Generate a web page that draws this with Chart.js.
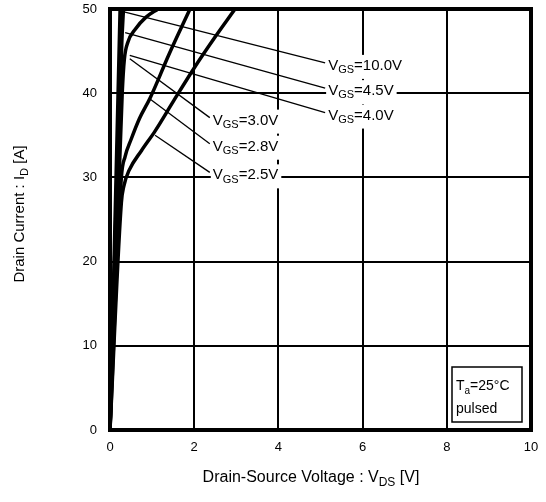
<!DOCTYPE html>
<html>
<head>
<meta charset="utf-8">
<script src="https://cdn.jsdelivr.net/npm/chart.js@4"></script>
<style>
  html, body { margin: 0; padding: 0; background: #fff; }
  canvas { display: block; }
</style>
</head>
<body>
<canvas id="chart" width="546" height="502"></canvas>
<script>
// Output characteristics, drain current vs drain-source voltage
const xTicks = [0, 2, 4, 6, 8, 10];
const yTicks = [0, 10, 20, 30, 40, 50];

// series points [V_DS, I_D]
const vgs10 = [[0, 0], [0.24, 50]];
const vgs45 = [[0, 0], [0.27, 50]];
const vgs40 = [[0, 0], [0.28, 46], [0.32, 50]];
const vgs30 = [[0, 0], [0.29, 40], [0.34, 44], [0.42, 46], [0.6, 47.6], [0.85, 49], [1.14, 50]];
const vgs28 = [[0, 0], [0.27, 30], [0.36, 32.5], [0.5, 34.5], [0.7, 37], [0.95, 39.4], [1.4, 44.6], [1.9, 50]];
const vgs25 = [[0, 0], [0.27, 27], [0.33, 29], [0.45, 30.8], [0.75, 33.2], [1.07, 35.5], [1.5, 39], [2, 43], [2.5, 46.7], [2.97, 50]];

// label text and where its leader line touches the curves
const labelNames = ['10.0V', '4.5V', '4.0V', '3.0V', '2.8V', '2.5V'];
const leaderFrom = [[0.31, 49.7], [0.36, 47.2], [0.47, 44.5], [0.47, 44.1], [0.95, 39.3], [1.07, 35.0]];
const leaderTo = [[5.11, 43.6], [5.11, 40.6], [5.11, 37.7], [2.37, 37.1], [2.37, 34.0], [2.37, 30.6]];

const FONT = 'Arial, "Liberation Sans", sans-serif';

function toPts(arr) {
    return arr.map(p => ({ x: p[0], y: p[1] }));
}

function curve(arr) {
    return {
        data: toPts(arr),
        borderColor: '#000',
        borderWidth: 3.5,
        pointRadius: 0,
        showLine: true,
        fill: false,
        cubicInterpolationMode: 'monotone'
    };
}

// draws "main" + subscript + rest, returns width
function subText(ctx, x, y, main, sub, rest, size) {
    ctx.font = size + 'px ' + FONT;
    ctx.fillText(main, x, y);
    let w = ctx.measureText(main).width;
    ctx.font = Math.round(size * 0.72) + 'px ' + FONT;
    ctx.fillText(sub, x + w, y + size * 0.28);
    w += ctx.measureText(sub).width;
    ctx.font = size + 'px ' + FONT;
    ctx.fillText(rest, x + w, y);
    w += ctx.measureText(rest).width;
    return w;
}

function subWidth(ctx, main, sub, rest, size) {
    ctx.font = size + 'px ' + FONT;
    let w = ctx.measureText(main).width + ctx.measureText(rest).width;
    ctx.font = Math.round(size * 0.72) + 'px ' + FONT;
    return w + ctx.measureText(sub).width;
}

const decorations = {
    id: 'decorations',
    afterDatasetsDraw(chart) {
        const ctx = chart.ctx;
        const xs = chart.scales.x, ys = chart.scales.y;
        const area = chart.chartArea;
        ctx.save();

        // leader lines
        ctx.strokeStyle = '#000';
        ctx.lineWidth = 1.3;
        for (let i = 0; i < labelNames.length; i++) {
            ctx.beginPath();
            ctx.moveTo(xs.getPixelForValue(leaderFrom[i][0]), ys.getPixelForValue(leaderFrom[i][1]));
            ctx.lineTo(xs.getPixelForValue(leaderTo[i][0]), ys.getPixelForValue(leaderTo[i][1]));
            ctx.stroke();
        }

        // labels with white background
        ctx.textBaseline = 'middle';
        ctx.textAlign = 'left';
        for (let i = 0; i < labelNames.length; i++) {
            const tx = xs.getPixelForValue(leaderTo[i][0]) + 3;
            const ty = ys.getPixelForValue(leaderTo[i][1]) + 3;
            const w = subWidth(ctx, 'V', 'GS', '=' + labelNames[i], 15);
            ctx.fillStyle = '#fff';
            ctx.fillRect(tx - 2, ty - 11, w + 5, 24);
            ctx.fillStyle = '#000';
            subText(ctx, tx, ty, 'V', 'GS', '=' + labelNames[i], 15);
        }

        // condition box
        const bx = area.right - 79, by = area.bottom - 63;
        ctx.fillStyle = '#fff';
        ctx.fillRect(bx, by, 70, 55);
        ctx.lineWidth = 1.5;
        ctx.strokeRect(bx, by, 70, 55);
        ctx.fillStyle = '#000';
        ctx.textBaseline = 'alphabetic';
        subText(ctx, bx + 4, by + 23, 'T', 'a', '=25°C', 14);
        ctx.font = '14px ' + FONT;
        ctx.fillText('pulsed', bx + 4, by + 46);

        // plot frame
        ctx.lineWidth = 4;
        ctx.strokeRect(area.left, area.top, area.right - area.left, area.bottom - area.top);

        // axis titles
        ctx.textBaseline = 'alphabetic';
        const xw = subWidth(ctx, 'Drain-Source Voltage : V', 'DS', ' [V]', 16);
        subText(ctx, 311 - xw / 2, 482, 'Drain-Source Voltage : V', 'DS', ' [V]', 16);

        ctx.translate(24, 214);
        ctx.rotate(-Math.PI / 2);
        const yw = subWidth(ctx, 'Drain Current : I', 'D', ' [A]', 15);
        subText(ctx, -yw / 2, 0, 'Drain Current : I', 'D', ' [A]', 15);

        ctx.restore();
    }
};

new Chart(document.getElementById('chart'), {
    type: 'scatter',
    data: {
        datasets: [curve(vgs10), curve(vgs45), curve(vgs40), curve(vgs30), curve(vgs28), curve(vgs25)]
    },
    options: {
        responsive: false,
        animation: false,
        layout: { padding: { top: 9, right: 15, left: 0, bottom: 0 } },
        plugins: { legend: { display: false }, tooltip: { enabled: false } },
        scales: {
            x: {
                type: 'linear',
                min: 0, max: 10,
                afterBuildTicks: s => { s.ticks = xTicks.map(v => ({ value: v })); },
                afterFit: s => { s.height = 72; s.paddingLeft = 0; s.paddingRight = 0; },
                grid: { color: '#000', lineWidth: 2, drawTicks: false },
                border: { display: false },
                ticks: { color: '#000', font: { family: FONT, size: 13 }, padding: 10 }
            },
            y: {
                type: 'linear',
                min: 0, max: 50,
                afterBuildTicks: s => { s.ticks = yTicks.map(v => ({ value: v })); },
                afterFit: s => { s.width = 110; s.paddingTop = 0; s.paddingBottom = 0; },
                grid: { color: '#000', lineWidth: 2, drawTicks: false },
                border: { display: false },
                ticks: { color: '#000', font: { family: FONT, size: 13 }, padding: 13 }
            }
        }
    },
    plugins: [decorations]
});
</script>
</body>
</html>
